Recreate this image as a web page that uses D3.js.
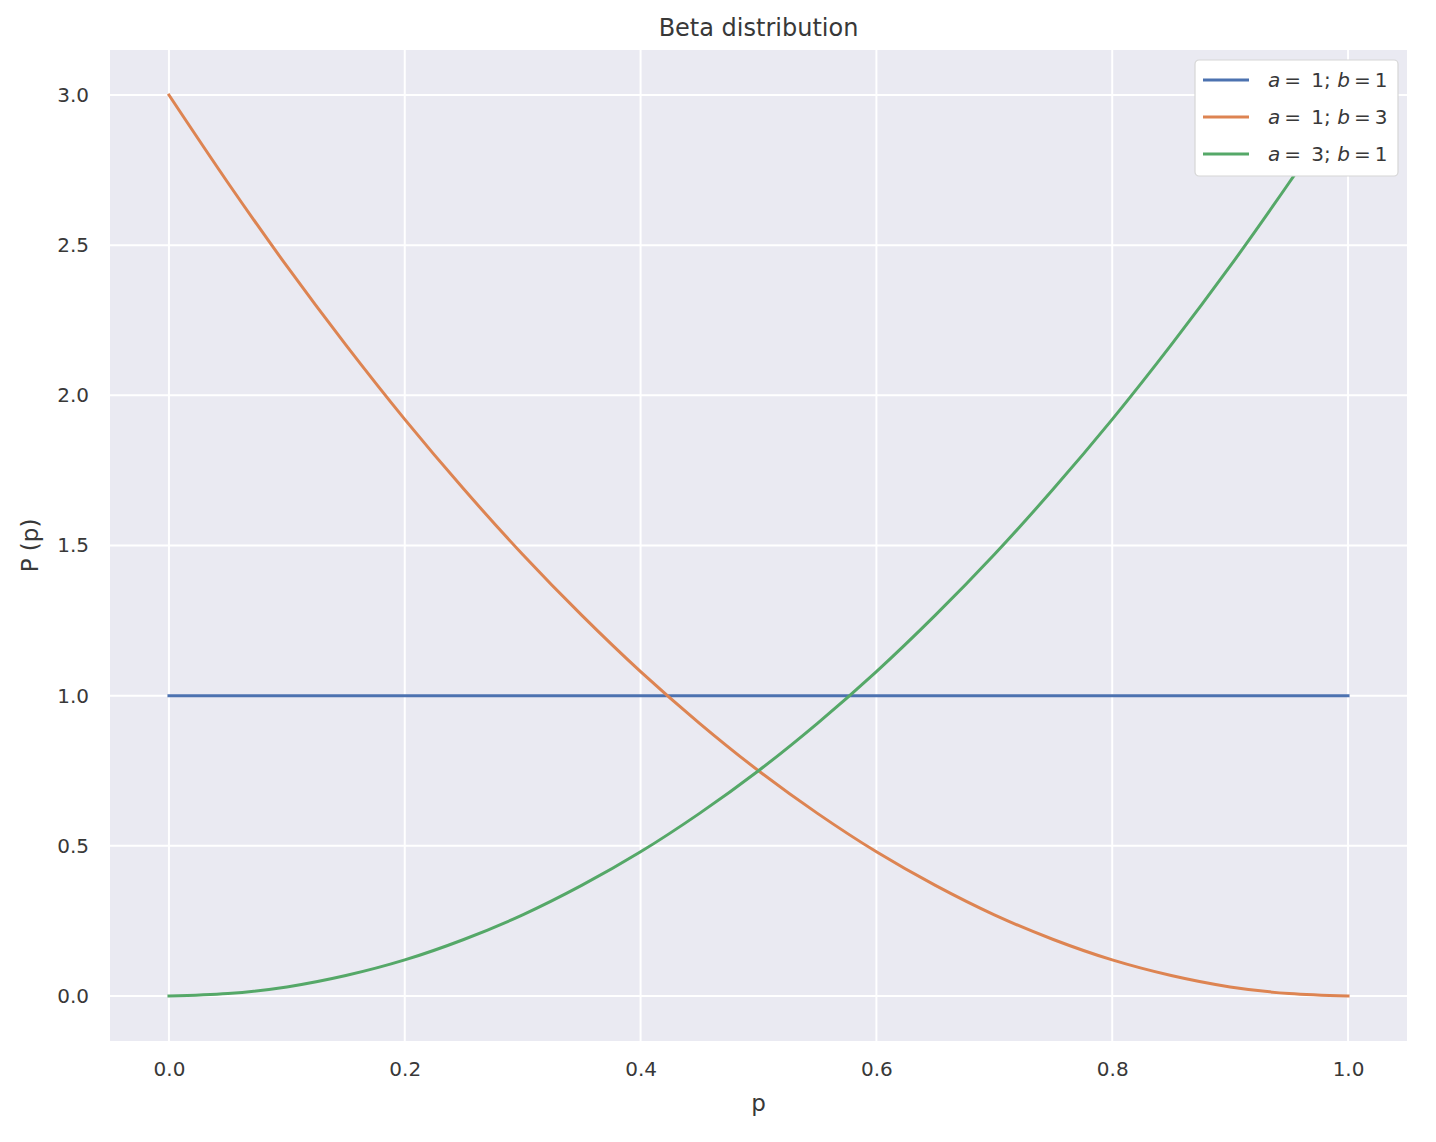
<!DOCTYPE html>
<html>
<head>
<meta charset="utf-8">
<script src="https://cdn.jsdelivr.net/npm/d3@7"></script>
<style>
  body { margin: 0; background: #fff; }
  text { font-family: "DejaVu Sans", sans-serif; fill: #383838; }
</style>
</head>
<body>
<div id="chart"></div>
<script>
// values
var pValues = [0, 0.05, 0.1, 0.15, 0.2, 0.25, 0.3, 0.35, 0.4, 0.45, 0.5,
               0.55, 0.6, 0.65, 0.7, 0.75, 0.8, 0.85, 0.9, 0.95, 1.0];
var beta11 = [1, 1, 1, 1, 1, 1, 1, 1, 1, 1, 1, 1, 1, 1, 1, 1, 1, 1, 1, 1, 1];
var beta13 = [3.0, 2.708, 2.43, 2.168, 1.92, 1.688, 1.47, 1.268, 1.08, 0.908, 0.75,
              0.608, 0.48, 0.368, 0.27, 0.188, 0.12, 0.068, 0.03, 0.008, 0.0];
var beta31 = [0.0, 0.008, 0.03, 0.068, 0.12, 0.188, 0.27, 0.368, 0.48, 0.608, 0.75,
              0.908, 1.08, 1.268, 1.47, 1.688, 1.92, 2.168, 2.43, 2.708, 3.0];
var seriesNames = [["1", "1"], ["1", "3"], ["3", "1"]];
var seriesColors = ["#4c72b0", "#dd8452", "#55a868"];
var xTicks = [0, 0.2, 0.4, 0.6, 0.8, 1.0];
var yTicks = [0, 0.5, 1.0, 1.5, 2.0, 2.5, 3.0];

var width = 1436, height = 1142;
var margin = {top: 50, right: 29, bottom: 101, left: 110};

var svg = d3.select("#chart").append("svg")
    .attr("width", width)
    .attr("height", height);

// axis range pads 5% like matplotlib
var x = d3.scaleLinear()
    .domain([-0.05, 1.05])
    .range([margin.left, width - margin.right]);
var y = d3.scaleLinear()
    .domain([-0.15, 3.15])
    .range([height - margin.bottom, margin.top]);

// background
svg.append("rect")
    .attr("x", margin.left)
    .attr("y", margin.top)
    .attr("width", width - margin.left - margin.right)
    .attr("height", height - margin.top - margin.bottom)
    .attr("fill", "#eaeaf2");

// grid
svg.append("g").selectAll("line").data(xTicks).join("line")
    .attr("x1", d => x(d)).attr("x2", d => x(d))
    .attr("y1", margin.top).attr("y2", height - margin.bottom)
    .attr("stroke", "#fff").attr("stroke-width", 2);
svg.append("g").selectAll("line").data(yTicks).join("line")
    .attr("y1", d => y(d)).attr("y2", d => y(d))
    .attr("x1", margin.left).attr("x2", width - margin.right)
    .attr("stroke", "#fff").attr("stroke-width", 2);

// axes (labels only, seaborn darkgrid has no spines/ticks)
var xAxis = svg.append("g")
    .attr("transform", `translate(0,${height - margin.bottom})`)
    .call(d3.axisBottom(x).tickValues(xTicks).tickFormat(d3.format(".1f")).tickSize(0).tickPadding(21));
xAxis.select(".domain").remove();
xAxis.selectAll("text").style("font-size", "20px").style("font-family", "DejaVu Sans").attr("fill", "#383838");

var yAxis = svg.append("g")
    .attr("transform", `translate(${margin.left},0)`)
    .call(d3.axisLeft(y).tickValues(yTicks).tickFormat(d3.format(".1f")).tickSize(0).tickPadding(21));
yAxis.select(".domain").remove();
yAxis.selectAll("text").style("font-size", "20px").style("font-family", "DejaVu Sans").attr("fill", "#383838");

// lines
var allSeries = [beta11, beta13, beta31];
var line = d3.line()
    .x((d, i) => x(pValues[i]))
    .y(d => y(d))
    .curve(d3.curveCatmullRom);

svg.append("g").selectAll("path").data(allSeries).join("path")
    .attr("fill", "none")
    .attr("stroke", (d, i) => seriesColors[i])
    .attr("stroke-width", 3)
    .attr("stroke-linecap", "square")
    .attr("d", line);

// title and axis labels
svg.append("text")
    .attr("x", (margin.left + width - margin.right) / 2)
    .attr("y", 36)
    .attr("text-anchor", "middle")
    .style("font-size", "24px")
    .text("Beta distribution");

svg.append("text")
    .attr("x", (margin.left + width - margin.right) / 2)
    .attr("y", 1111)
    .attr("text-anchor", "middle")
    .style("font-size", "23px")
    .text("p");

svg.append("text")
    .attr("transform", `translate(38,${(margin.top + height - margin.bottom) / 2}) rotate(-90)`)
    .attr("text-anchor", "middle")
    .style("font-size", "23px")
    .text("P (p)");

// legend
var legend = svg.append("g").attr("transform", "translate(1195,60)");
legend.append("rect")
    .attr("width", 203).attr("height", 116)
    .attr("rx", 4)
    .attr("fill", "#fff")
    .attr("stroke", "#d6d6d6").attr("stroke-width", 1.2);

var rows = legend.selectAll("g.row").data(seriesNames).join("g")
    .attr("class", "row")
    .attr("transform", (d, i) => `translate(0,${20 + i * 37})`);
rows.append("line")
    .attr("x1", 8).attr("x2", 54)
    .attr("stroke", (d, i) => seriesColors[i])
    .attr("stroke-width", 3);
var t = rows.append("text")
    .attr("x", 73).attr("y", 7)
    .style("font-size", "20px");
t.append("tspan").style("font-style", "italic").text("a");
t.append("tspan").text(d => "\u2009=\u2009 " + d[0] + "; ");
t.append("tspan").style("font-style", "italic").text("b");
t.append("tspan").text(d => "\u2009=\u2009" + d[1]);
</script>
</body>
</html>
